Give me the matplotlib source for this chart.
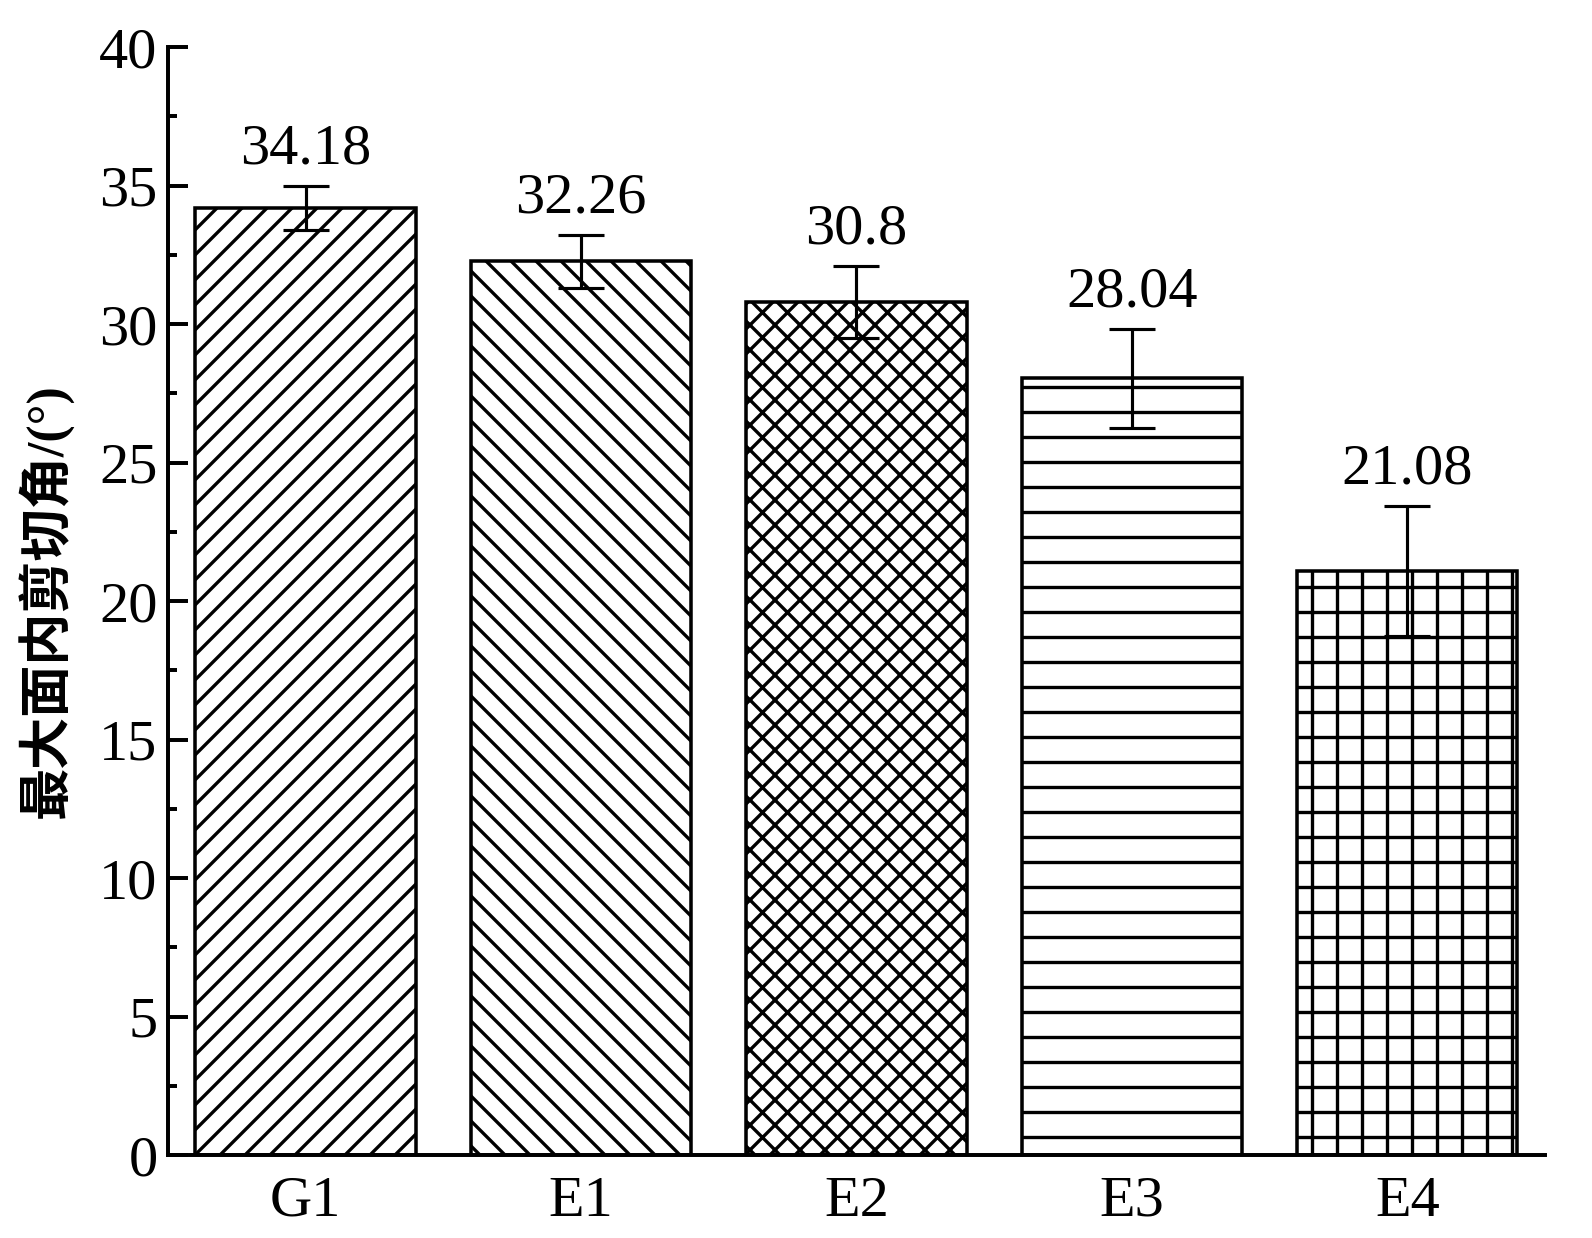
import matplotlib
matplotlib.use("Agg")
import matplotlib.pyplot as plt
from matplotlib.ticker import MultipleLocator

groups = ["G1", "E1", "E2", "E3", "E4"]
angles = [34.18, 32.26, 30.8, 28.04, 21.08]
errors = [0.8, 0.95, 1.3, 1.78, 2.35]
labels = ["34.18", "32.26", "30.8", "28.04", "21.08"]
hatches = ["//", "\\\\", "xx", "-", "+"]

plt.rcParams["font.family"] = ["Liberation Serif", "Noto Sans CJK SC"]
plt.rcParams["hatch.linewidth"] = 1.6
plt.rcParams["hatch.color"] = "black"

DPI = 150
fig = plt.figure(figsize=(1592 / DPI, 1238 / DPI), dpi=DPI)
ax = fig.add_axes([0.1055, 0.067, 0.865, 0.895])

x = list(range(len(groups)))
for i in x:
    ax.bar(i, angles[i], width=0.8, color="white", edgecolor="black",
           linewidth=1.7, hatch=hatches[i], zorder=2)

ax.errorbar(x, angles, yerr=errors, fmt="none", ecolor="black",
            elinewidth=1.5, capsize=11, capthick=1.5, zorder=3)

for i in x:
    ax.annotate(labels[i], (i, angles[i] + errors[i]), xytext=(0, 5),
                textcoords="offset points", ha="center", va="bottom", fontsize=28)

ax.set_xlim(-0.5, 4.5)
ax.set_ylim(0, 40)
ax.set_xticks(x)
ax.set_xticklabels(groups)
ax.yaxis.set_major_locator(MultipleLocator(5))
ax.yaxis.set_minor_locator(MultipleLocator(2.5))

for side in ["top", "right"]:
    ax.spines[side].set_visible(False)
for side in ["left", "bottom"]:
    ax.spines[side].set_linewidth(1.9)

ax.tick_params(axis="y", which="major", direction="in", length=9.5, width=1.9,
               labelsize=28, pad=5)
ax.tick_params(axis="y", which="minor", direction="in", length=4.5, width=1.9)
ax.tick_params(axis="x", which="major", direction="in", length=10, width=1.5,
               labelsize=28, pad=10)

ax.set_ylabel("最大面内剪切角/(°)", fontsize=25, fontweight="bold", labelpad=12)

fig.savefig("out.png", dpi=DPI)
